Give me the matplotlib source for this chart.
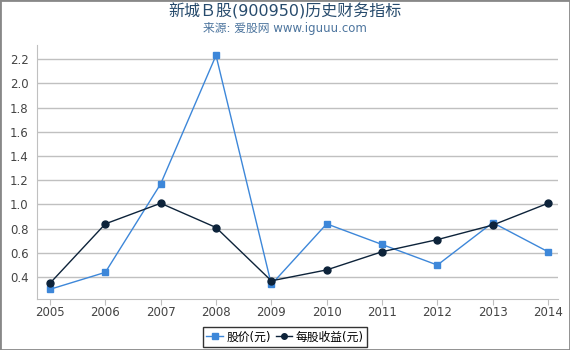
import matplotlib.pyplot as plt

plt.rcParams['font.family'] = ['DejaVu Sans', 'Noto Sans CJK SC']

years = [2005, 2006, 2007, 2008, 2009, 2010, 2011, 2012, 2013, 2014]
price = [0.30, 0.44, 1.17, 2.23, 0.34, 0.84, 0.67, 0.50, 0.85, 0.61]
eps = [0.35, 0.84, 1.01, 0.81, 0.37, 0.46, 0.61, 0.71, 0.83, 1.01]
yticks = [0.4, 0.6, 0.8, 1.0, 1.2, 1.4, 1.6, 1.8, 2.0, 2.2]

fig = plt.figure(figsize=(5.7, 3.5), dpi=100)
ax = fig.add_axes([37/570, 1 - 299/350, (558-37)/570, (299-45)/350])

ax.plot(years, price, color='#3d87d9', linewidth=1, marker='s', markersize=5,
        label='股价(元)')
ax.plot(years, eps, color='#0d233a', linewidth=1, marker='o', markersize=5,
        label='每股收益(元)')

ax.set_xlim(2004.765, 2014.18)
ax.set_ylim(0.22, 2.316)
ax.set_xticks(years)
ax.set_yticks(yticks)
ax.set_yticklabels([f'{v:.1f}' for v in yticks])
ax.grid(axis='y', color='#c0c0c0', linewidth=1)
ax.set_axisbelow(True)
for s in ['top', 'right']:
    ax.spines[s].set_visible(False)
ax.spines['left'].set_color('#c0c0c0')
ax.spines['bottom'].set_color('#c0c0c0')
ax.tick_params(axis='y', length=0, labelsize=8.5, labelcolor='#444444', pad=6)
ax.tick_params(axis='x', length=4, color='#c0c0c0', labelsize=8.5, labelcolor='#444444', pad=1)

fig.text(0.5, 0.968, '新城Ｂ股(900950)历史财务指标', ha='center', va='center',
         fontsize=11.5, color='#274b6d')
fig.text(0.5, 0.918, '来源: 爱股网 www.iguuu.com', ha='center', va='center',
         fontsize=8.5, color='#4d759e')

leg = fig.legend(loc='center', ncol=2,
                 fontsize=8.5, frameon=True, fancybox=False, edgecolor='black',
                 handlelength=1.4, handletextpad=0.3, columnspacing=0.4,
                 borderpad=0.3, markerscale=0.8)
leg.set_bbox_to_anchor((0.5, 1 - 337/350), transform=fig.transFigure)
leg.get_frame().set_linewidth(1)

border = plt.Rectangle((0, 0), 1, 1, transform=fig.transFigure, fill=False,
                       edgecolor='#888888', linewidth=2)
fig.patches.append(border)

fig.savefig('out.png', dpi=100)
